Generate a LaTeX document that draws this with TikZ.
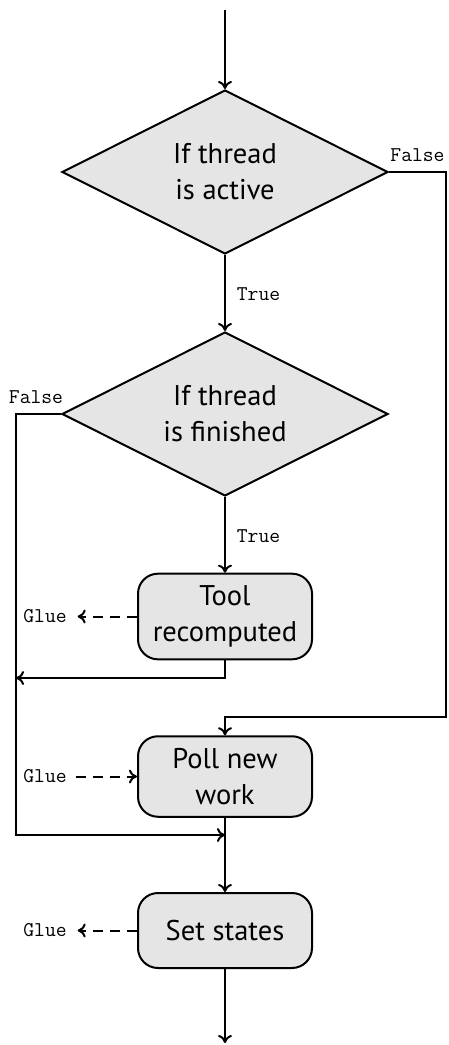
\documentclass[tikz,border=0pt]{standalone}
\usepackage{fontspec}
\setmainfont{PT Sans}
\usetikzlibrary{shapes.geometric,arrows.meta}
\begin{document}
\begin{tikzpicture}[x=1pt,y=-1pt,line width=2pt,
  decision/.style={diamond,aspect=2,draw,fill=gray!20,minimum width=326pt,minimum height=164pt,
    inner sep=0pt,align=center,font=\fontsize{28.5}{36}\selectfont},
  process/.style={rectangle,rounded corners=20pt,draw,fill=gray!20,minimum width=174pt,
    minimum height=75pt,inner ysep=12pt,align=center,font=\fontsize{28.5}{36}\selectfont},
  flow/.style={-{To[length=8pt,width=14pt]}},
  gluearrow/.style={dash pattern=on 10pt off 7pt,-{To[length=8pt,width=14pt]}},
  tag/.style={font=\fontsize{21}{24}\ttfamily\addfontfeature{FakeBold=0.6},inner sep=0pt}]
\useasboundingbox (0,0) rectangle (449,1045);

% decisions and steps
\node[decision] (active) at (225,172) {If thread\\is active};
\node[decision] (finished) at (225,414) {If thread\\is finished};
\node[process] (tool) at (225,616.5) {Tool\\recomputed};
\node[process] (poll) at (225,776.5) {Poll new\\work};
\node[process] (set) at (225,930.5) {Set states};

% glue side notes
\node[tag] (g1) at (45,616.5) {Glue};
\node[tag] (g2) at (45,776.5) {Glue};
\node[tag] (g3) at (45,930.5) {Glue};

% branch labels
\node[tag] (f1) at (417.5,155) {False};
\node[tag] (f2) at (36,397) {False};
\node[tag] (t1) at (258.5,294) {True};
\node[tag] (t2) at (258.5,536) {True};

% routing points
\coordinate (in) at (225,10);
\coordinate (out) at (225,1043);
\coordinate (rightrail) at (446,172);
\coordinate (joinpoll) at (446,717);
\coordinate (leftrail) at (16,414);
\coordinate (toolback) at (225,678);
\coordinate (leftjoin) at (16,678);
\coordinate (merge) at (225,835);

% main flow
\draw[flow] (in) -- (active.north);
\draw[flow] (active.south) -- (finished.north);
\draw[flow] (finished.south) -- (tool.north);
\draw[flow] (active.east) -- (rightrail) -- (joinpoll) -| (poll.north);
\draw[flow] (finished.west) -- (leftrail) |- (merge);
\draw[flow] (tool.south) -- (toolback) -- (leftjoin);
\draw[flow] (poll.south) -- (set.north);
\draw[flow] (set.south) -- (out);

% glue links
\draw[gluearrow] (tool.west) -- ([xshift=10pt]g1.east);
\draw[gluearrow] ([xshift=8pt]g2.east) -- (poll.west);
\draw[gluearrow] (set.west) -- ([xshift=10pt]g3.east);
\end{tikzpicture}
\end{document}
